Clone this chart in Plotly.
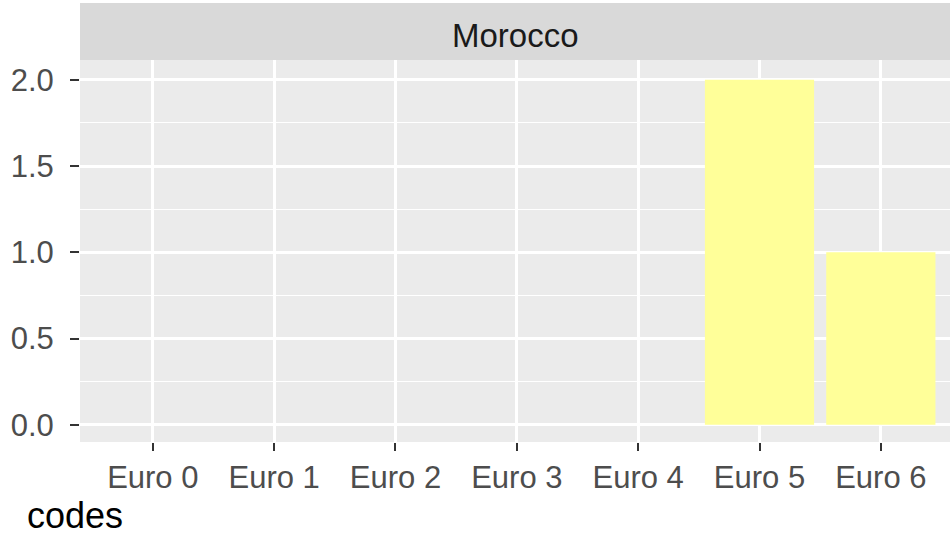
import plotly.graph_objects as go

categories = ["Euro 0", "Euro 1", "Euro 2", "Euro 3", "Euro 4", "Euro 5", "Euro 6"]
counts = [0, 0, 0, 0, 0, 2, 1]
y_ticks = [0.0, 0.5, 1.0, 1.5, 2.0]
y_tick_labels = ["0.0", "0.5", "1.0", "1.5", "2.0"]
facet_title = "Morocco"
legend_fragment = "codes"

fig = go.Figure()
fig.add_trace(go.Bar(x=categories, y=counts, width=0.9,
                     marker=dict(color="#FFFF99", line=dict(width=0)),
                     showlegend=False))

font_family = "Liberation Sans, Arial, sans-serif"
fig.update_layout(
    width=950, height=533,
    margin=dict(l=80, r=0, t=60, b=91, autoexpand=False),
    paper_bgcolor="white",
    plot_bgcolor="#EBEBEB",
    font=dict(family=font_family),
    xaxis=dict(
        type="category", range=[-0.6, 6.57], automargin=False,
        showgrid=True, gridcolor="white", gridwidth=2.5,
        ticks="outside", ticklen=8, tickwidth=2, tickcolor="#333333",
        tickfont=dict(size=31, color="#4D4D4D"),
        ticklabelstandoff=0,
        zeroline=False, showline=False,
    ),
    yaxis=dict(
        range=[-0.1, 2.115], automargin=False,
        tickvals=y_ticks, ticktext=y_tick_labels,
        showgrid=True, gridcolor="white", gridwidth=2.5,
        minor=dict(tickvals=[0.25, 0.75, 1.25, 1.75], showgrid=True,
                   gridcolor="white", gridwidth=1.2, ticks=""),
        ticks="outside", ticklen=9, tickwidth=2, tickcolor="#333333",
        tickfont=dict(size=31, color="#4D4D4D"),
        ticklabelstandoff=10,
        zeroline=False, showline=False,
    ),
    shapes=[dict(type="rect", xref="paper", yref="paper",
                 x0=0, x1=1.01, y0=1.0, y1=1 + 57 / 382,
                 fillcolor="#D9D9D9", line=dict(width=0), layer="below")],
    annotations=[
        dict(text=facet_title, xref="paper", yref="paper", x=0.5, y=1 + 25 / 382,
             showarrow=False, xanchor="center", yanchor="middle",
             font=dict(size=33, color="#1A1A1A", family=font_family)),
        dict(text=legend_fragment, xref="paper", yref="paper", x=-55 / 870, y=-73 / 382,
             showarrow=False, xanchor="left", yanchor="middle",
             font=dict(size=36, color="#000000", family=font_family)),
    ],
)

fig.write_html(
    "out.html",
    config={"displayModeBar": False},
    post_script="document.body.style.margin='0';document.body.style.overflow='hidden';",
)
